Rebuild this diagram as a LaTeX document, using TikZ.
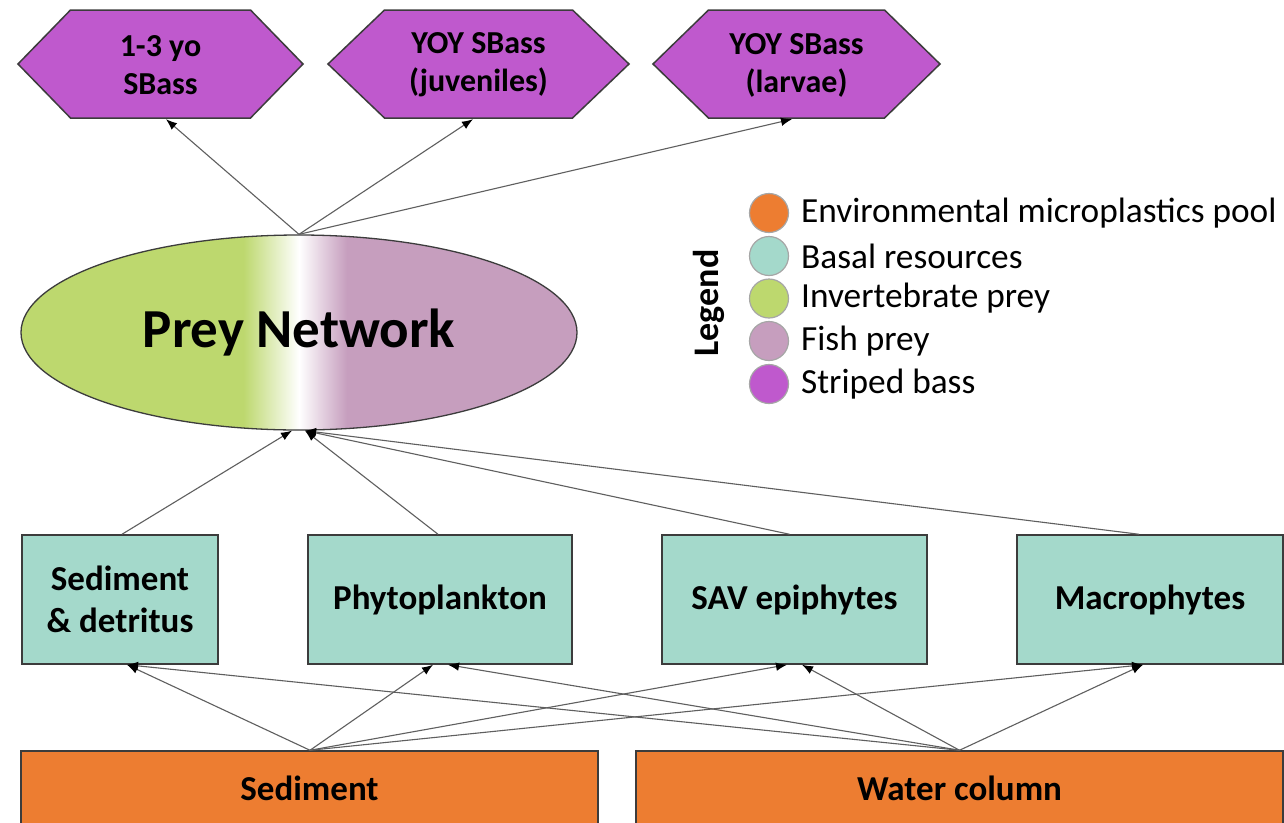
\documentclass[tikz,border=0pt]{standalone}
\usepackage{fontspec}
\setmainfont{Carlito}
\usetikzlibrary{shapes.geometric,arrows.meta}
\definecolor{sbass}{RGB}{191,89,205}
\definecolor{basal}{RGB}{164,217,203}
\definecolor{envmp}{RGB}{237,125,49}
\definecolor{invprey}{RGB}{189,216,110}
\definecolor{fishprey}{RGB}{198,158,190}
\definecolor{edge}{RGB}{60,60,60}
\definecolor{link}{RGB}{95,95,95}
\pgfdeclarehorizontalshading{preyshade}{100bp}{color(0bp)=(invprey); color(45bp)=(invprey); color(50bp)=(white); color(54.3bp)=(fishprey); color(100bp)=(fishprey)}
\tikzset{
  hextext/.style={inner sep=0pt, minimum width=180pt, minimum height=108pt, align=center, font=\bfseries\fontsize{32}{38}\selectfont},
  hexfill/.style={fill=sbass, draw=edge, line width=1.5pt, line join=miter},
  basalbox/.style={rectangle, draw=edge, fill=basal, line width=1.5pt, minimum height=129pt, inner sep=0pt, align=center, font=\bfseries\fontsize{35}{42}\selectfont},
  envbox/.style={rectangle, draw=edge, fill=envmp, line width=1.5pt, minimum height=74pt, inner sep=0pt, font=\bfseries\fontsize{35}{42}\selectfont},
  legdot/.style={circle, draw=gray!70, line width=1.2pt, minimum size=39pt, inner sep=0pt},
  legtext/.style={anchor=west, inner sep=0pt, font=\fontsize{35.3}{42}\selectfont},
  link/.style={draw=link, line width=1.1pt, -{Latex[length=11pt,width=8.5pt,black]}},
}
\begin{document}
\begin{tikzpicture}[x=1pt,y=-1pt]
\useasboundingbox (0,0) rectangle (1284,822);
\clip (0,0) rectangle (1284,822);
\fill[white] (0,0) rectangle (1284,822);

% hexagons (striped bass): centre x / half width / half flat top
\foreach \cx/\hw/\hf in {160.5/142.5/90, 478.5/150.5/94, 796.5/143.5/88}{
  \draw[hexfill] (\cx-\hw,64) -- (\cx-\hf,10) -- (\cx+\hf,10) -- (\cx+\hw,64) -- (\cx+\hf,118) -- (\cx-\hf,118) -- cycle;
}
\node[hextext] (h1) at (160.5,65) {1-3 yo\\SBass};
\node[hextext] (h2) at (478.5,65) {YOY SBass\\(juveniles)};
\node[hextext] (h3) at (796.5,65) {YOY SBass\\(larvae)};

% prey network
\node[ellipse, draw=edge, line width=1.3pt, shading=preyshade, minimum width=556pt, minimum height=195pt, inner sep=0pt,
      font=\bfseries\fontsize{55}{66}\selectfont] (prey) at (299,332.5) {Prey Network};

% legend
\node[rotate=90, inner sep=0pt, font=\bfseries\fontsize{36}{43}\selectfont] (legtitle) at (709,303) {Legend};
\node[legdot, fill=envmp] (d1) at (769,213) {};
\node[legdot, fill=basal] (d2) at (769,256) {};
\node[legdot, fill=invprey] (d3) at (769,298.5) {};
\node[legdot, fill=fishprey] (d4) at (769,341) {};
\node[legdot, fill=sbass] (d5) at (769,384) {};
\node[legtext] (t1) at (801,213) {Environmental microplastics pool};
\node[legtext] (t2) at (801,256) {Basal resources};
\node[legtext] (t3) at (801,298.5) {Invertebrate prey};
\node[legtext] (t4) at (801,341) {Fish prey};
\node[legtext] (t5) at (801,384) {Striped bass};

% basal resources
\node[basalbox, minimum width=196pt] (b1) at (120,599.5) {Sediment\\\&~detritus};
\node[basalbox, minimum width=264pt] (b2) at (440,599.5) {Phytoplankton};
\node[basalbox, minimum width=265pt] (b3) at (794.5,599.5) {SAV epiphytes};
\node[basalbox, minimum width=266pt] (b4) at (1150,599.5) {Macrophytes};

% environmental pools
\node[envbox, minimum width=577pt] (sed) at (309.5,788) {Sediment};
\node[envbox, minimum width=647pt] (wat) at (959.5,788) {Water column};

% prey -> striped bass
\draw[link] (prey.north) -- ([xshift=5.5pt]h1.south);
\draw[link] (prey.north) -- ([xshift=-5.5pt]h2.south);
\draw[link] (prey.north) -- ([xshift=-4.5pt]h3.south);

% basal -> prey
\draw[link] ([xshift=2pt]b1.north) -- ([xshift=-7pt]prey.south);
\draw[link] ([xshift=-2pt]b2.north) -- ([xshift=6pt]prey.south);
\draw[link] ([xshift=-5pt]b3.north) -- ([xshift=6pt]prey.south);
\draw[link] ([xshift=-11pt]b4.north) -- ([xshift=6pt]prey.south);

% pools -> basal
\draw[link] ([xshift=0.5pt]sed.north) -- ([xshift=7pt]b1.south);
\draw[link] ([xshift=0.5pt]sed.north) -- ([xshift=-7pt]b2.south);
\draw[link] ([xshift=0.5pt]sed.north) -- ([xshift=-7.5pt]b3.south);
\draw[link] ([xshift=0.5pt]sed.north) -- ([xshift=-7pt]b4.south);
\draw[link] (wat.north) -- ([xshift=7pt]b1.south);
\draw[link] (wat.north) -- ([xshift=8pt]b2.south);
\draw[link] (wat.north) -- ([xshift=7.5pt]b3.south);
\draw[link] (wat.north) -- ([xshift=-7pt]b4.south);
\end{tikzpicture}
\end{document}
